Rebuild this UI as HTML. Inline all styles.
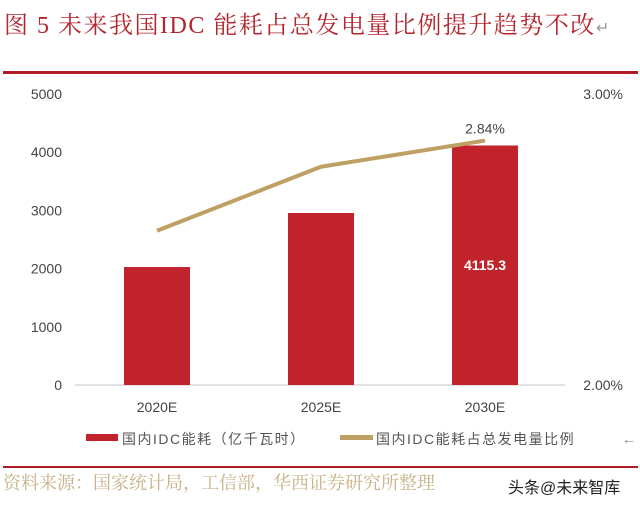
<!DOCTYPE html>
<html><head><meta charset="utf-8"><style>
body{margin:0;width:640px;height:506px;background:#fff;overflow:hidden;position:relative;font-family:"Liberation Sans","Noto Sans CJK SC",sans-serif}
.t{position:absolute;white-space:nowrap}
</style></head><body>
<div class="t" style="left:4px;top:5px;font:24px 'Liberation Serif','Noto Serif CJK SC',serif;color:#b3262e;letter-spacing:1.5px">图 5 未来我国IDC 能耗占总发电量比例提升趋势不改<span style="color:#999;font-size:16px">↵</span></div>
<div style="position:absolute;left:3px;top:71px;width:635px;height:3px;background:#b01c24"></div>
<svg id="c" width="640" height="506" style="position:absolute;left:0;top:0"></svg>
<div style="position:absolute;left:3px;top:466px;width:635px;height:2px;background:#b01c24"></div>
<div class="t" style="left:3px;top:469px;font:18px 'Liberation Serif','Noto Serif CJK SC',serif;color:#c6b084">资料来源：国家统计局，工信部，华西证券研究所整理</div>
<div class="t" style="left:508px;top:474px;font:16px 'Liberation Sans','Noto Sans CJK SC',sans-serif;color:#222">头条@未来智库</div>
<script>
const categories=["2020E","2025E","2030E"];
const energy=[2027,2955,4115.3];
const share=[2.53,2.75,2.84];
const leftTicks=[0,1000,2000,3000,4000,5000];
const rightTicks=[2.00,3.00];
const ns="http://www.w3.org/2000/svg",svg=document.getElementById('c');
const y0=385,y1=94,x0=75,x1=565;
const yL=v=>y0-(v/5000)*(y0-y1);
const yR=v=>y0-((v-2)/1)*(y0-y1);
const xC=i=>157+i*164;
function mk(t,a,txt){const e=document.createElementNS(ns,t);for(const k in a)e.setAttribute(k,a[k]);if(txt!=null)e.textContent=txt;svg.appendChild(e);return e;}
leftTicks.forEach(v=>{const e=mk('text',{x:62,y:yL(v)+5,'text-anchor':'end','font-size':14,fill:'#444'},v);

});
rightTicks.forEach(v=>{const e=mk('text',{x:623,y:yR(v)+5,'text-anchor':'end','font-size':14,fill:'#444'},v.toFixed(2)+'%');

});
const ax=mk('line',{x1:x0,x2:x1,y1:y0,y2:y0,stroke:'#d9d9d9','stroke-width':1.5});


categories.forEach((c,i)=>{
const r=mk('rect',{x:xC(i)-33,y:yL(energy[i]),width:66,height:y0-yL(energy[i]),fill:'#c0232b'});


const l=mk('text',{x:xC(i),y:y0+27,'text-anchor':'middle','font-size':14,fill:'#444'},c);


});
const bl=mk('text',{x:xC(2),y:yL(energy[2]/2)+5,'text-anchor':'middle','font-size':14,'font-weight':'bold',fill:'#fff'},energy[2].toFixed(1));


const pl=mk('polyline',{points:share.map((v,i)=>xC(i)+','+yR(v)).join(' '),fill:'none',stroke:'#bfa064','stroke-width':4});


const sl=mk('text',{x:xC(2),y:yR(share[2])-7,'text-anchor':'middle','font-size':14,fill:'#444'},share[2].toFixed(2)+'%');


const g1=mk('rect',{x:86,y:434,width:32,height:7,fill:'#c0232b'});


const t1=mk('text',{x:122,y:444,'font-size':14,'letter-spacing':1.5,fill:'#555'},'国内IDC能耗（亿千瓦时）');


const g2=mk('rect',{x:340,y:435,width:33,height:5,fill:'#bfa064'});


const t2=mk('text',{x:376,y:444,'font-size':14,'letter-spacing':1.5,fill:'#555'},'国内IDC能耗占总发电量比例');


const t3=mk('text',{x:622,y:444,'font-size':14,fill:'#888'},'←');


</script>
</body></html>
